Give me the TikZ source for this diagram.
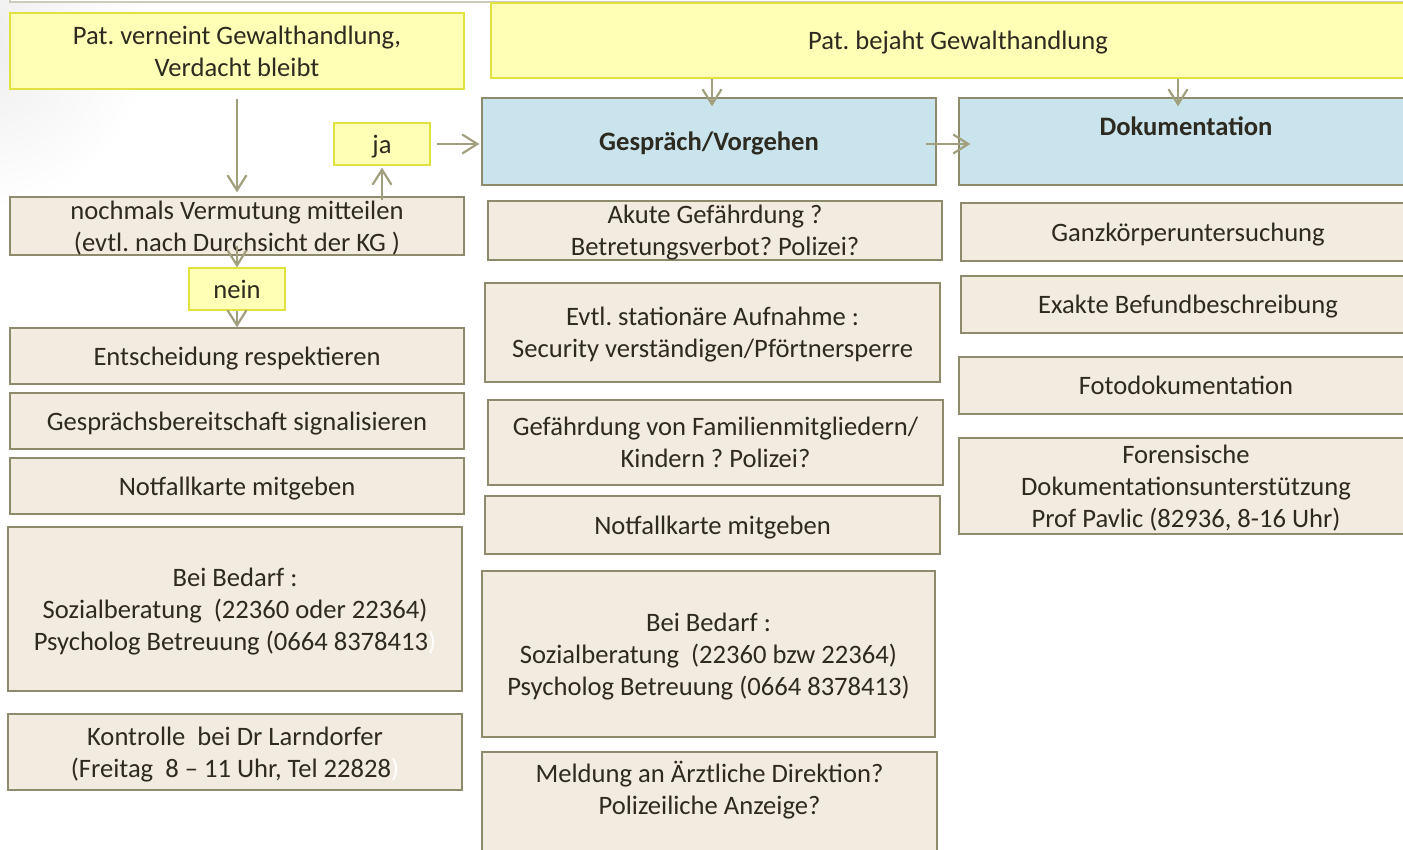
\documentclass[tikz,border=0pt]{standalone}
\usepackage{fontspec}
\setmainfont{Carlito}
\frenchspacing
\usepackage{xcolor}
\definecolor{colorYellow}{HTML}{FFFFB5}
\definecolor{colorYellowLine}{HTML}{E1E13F}
\definecolor{colorBox}{HTML}{F2EBDF}
\definecolor{colorBlue}{HTML}{C9E4EC}
\definecolor{colorFrame}{HTML}{8E8B6C}
\definecolor{colorArrow}{HTML}{A29F7E}
\definecolor{colorText}{HTML}{2D2A20}
\usepackage{tikz}
\usetikzlibrary{arrows.meta, positioning}
\tikzset{
  box/.style={draw=colorFrame, fill=colorBox, line width=1.4pt, inner sep=0pt, align=center, text=colorText, text depth=0pt},
  question/.style={box, draw=colorYellowLine, fill=colorYellow},
  heading/.style={box, fill=colorBlue},
  txt/.style={inner sep=0pt, align=center, text=colorText, text depth=0pt},
  flow/.style={draw=colorArrow, line width=2.2pt, -{Straight Barb[length=15pt, width=19pt, line width=2.2pt]}}
}

\begin{document}
\begin{tikzpicture}[x=1pt, y=-1pt, font=\fontsize{26.6}{32}\selectfont]
\useasboundingbox (0,0) rectangle (1403,850);
\fill[white] (0,0) rectangle (1403,850);
\shade[inner color=black!7, outer color=white] (-20,40) circle (170pt);
\draw[colorFrame!45, line width=1.2pt, fill=white] (10,-20) rectangle (1430,2);
\node[question, minimum width=454pt, minimum height=76pt] (neg) at (237,51) {Pat. verneint Gewalthandlung,\\Verdacht bleibt};
\node[question, minimum width=934pt, minimum height=75pt] (pos) at (958,40.5) {Pat. bejaht Gewalthandlung};
\node[box, minimum width=454pt, minimum height=58pt] (again) at (237,226) {nochmals Vermutung mitteilen\\(evtl. nach Durchsicht der KG )};
\node[question, minimum width=96pt, minimum height=42pt] (ja) at (382,144) {ja};
\node[question, minimum width=96pt, minimum height=42pt] (nein) at (237,289) {nein};
\node[box, minimum width=454pt, minimum height=56pt] (respect) at (237,356) {Entscheidung respektieren};
\node[box, minimum width=454pt, minimum height=56pt] (signal) at (237,421) {Gesprächsbereitschaft signalisieren};
\node[box, minimum width=454pt, minimum height=56pt] (lcard) at (237,486) {Notfallkarte mitgeben};
\node[box, minimum width=454pt, minimum height=164pt] (lneed) at (235,609) {Bei Bedarf :\\Sozialberatung~ (22360 oder 22364)\\Psycholog Betreuung (0664 8378413\textcolor{white}{)}};
\node[box, minimum width=454pt, minimum height=76pt] (check) at (235,752) {Kontrolle~ bei Dr Larndorfer\\(Freitag~ 8 – 11 Uhr, Tel 22828\textcolor{white}{)}};
\node[heading, minimum width=454pt, minimum height=87pt, font=\fontsize{26.6}{32}\selectfont\bfseries] (talk) at (709,141.5) {Gespräch/Vorgehen};
\node[box, minimum width=454pt, minimum height=59pt] (danger) at (715,230.5) {Akute Gefährdung ?\\Betretungsverbot? Polizei?};
\node[box, minimum width=455pt, minimum height=99pt] (ward) at (712.5,332.5) {Evtl. stationäre Aufnahme :\\Security verständigen/Pförtnersperre};
\node[box, minimum width=455pt, minimum height=85pt] (family) at (715.5,442.5) {Gefährdung von Familienmitgliedern/\\Kindern ? Polizei?};
\node[box, minimum width=455pt, minimum height=58pt] (mcard) at (712.5,525) {Notfallkarte mitgeben};
\node[box, minimum width=453pt, minimum height=166pt] (mneed) at (708.5,654) {Bei Bedarf :\\Sozialberatung~ (22360 bzw 22364)\\Psycholog Betreuung (0664 8378413)};
\node[box, minimum width=455pt, minimum height=128pt] (report) at (709.5,816) {};
\node[txt] (reporttext) at (709.5,788) {Meldung an Ärztliche Direktion?\\Polizeiliche Anzeige?};
\node[heading, minimum width=454pt, minimum height=87pt] (doc) at (1186,141.5) {};
\node[txt, font=\fontsize{26.6}{32}\selectfont\bfseries] (doctext) at (1186,126) {Dokumentation};
\node[box, minimum width=454pt, minimum height=58pt] (body) at (1188,232) {Ganzkörperuntersuchung};
\node[box, minimum width=454pt, minimum height=57pt] (finding) at (1188,304.5) {Exakte Befundbeschreibung};
\node[box, minimum width=454pt, minimum height=57pt] (photo) at (1186,385.5) {Fotodokumentation};
\node[box, minimum width=454pt, minimum height=96pt] (forensic) at (1186,486) {Forensische\\Dokumentationsunterstützung\\Prof Pavlic (82936, 8-16 Uhr)};
\draw[flow, shorten <=9pt, shorten >=4pt] (neg) -- (again);
\draw[flow, shorten <=-4pt, shorten >=2pt] (ja |- again.north) -- (ja.south);
\draw[flow, shorten <=6pt, shorten >=2pt] (ja.east) -- (ja.east -| talk.west);
\draw[flow] ([yshift=10pt]again.south) -- (nein.north);
\draw[flow] (nein.south) -- (respect.north);
\draw[flow] ([xshift=3pt]talk.north |- pos.south) -- ([xshift=3pt, yshift=-9pt]talk.north);
\draw[flow] ([xshift=-11pt]talk.east |- ja.east) -- ([xshift=12pt]doc.west |- ja.east);
\draw[flow] ([xshift=-8pt]doc.north |- pos.south) -- ([xshift=-8pt, yshift=-9pt]doc.north);
\end{tikzpicture}
\end{document}
